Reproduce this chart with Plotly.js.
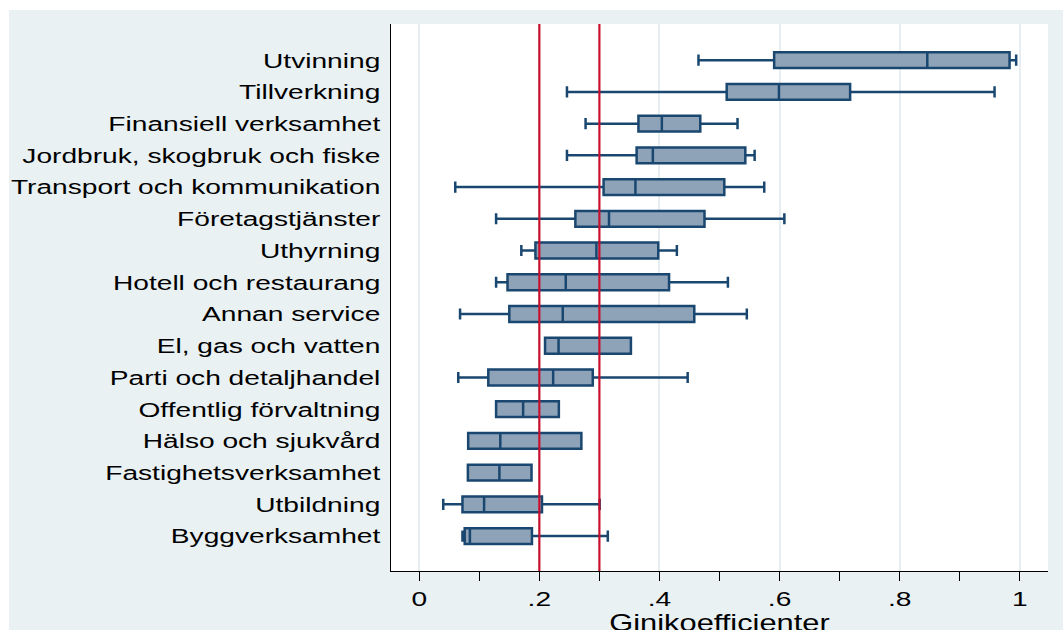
<!DOCTYPE html>
<html>
<head>
<meta charset="utf-8">
<script src="https://cdn.plot.ly/plotly-3.0.1.min.js"></script>
<style>
  html, body { margin: 0; padding: 0; background: #ffffff; width: 1063px; height: 630px; overflow: hidden; }
  #chart { position: absolute; left: 9px; top: 10px; width: 1054px; height: 620px; }
</style>
</head>
<body>
<div id="chart"></div>
<script>
// Categories, top to bottom
const categories = [
  "Utvinning",
  "Tillverkning",
  "Finansiell verksamhet",
  "Jordbruk, skogbruk och fiske",
  "Transport och kommunikation",
  "Företagstjänster",
  "Uthyrning",
  "Hotell och restaurang",
  "Annan service",
  "El, gas och vatten",
  "Parti och detaljhandel",
  "Offentlig förvaltning",
  "Hälso och sjukvård",
  "Fastighetsverksamhet",
  "Utbildning",
  "Byggverksamhet"
];
const lowerWhisker = [0.465, 0.246, 0.277, 0.246, 0.060, 0.128, 0.170, 0.128, 0.068, 0.2095, 0.065, 0.128, 0.0815, 0.081, 0.040, 0.072];
const q1Values     = [0.591, 0.512, 0.365, 0.362, 0.307, 0.260, 0.1935, 0.147, 0.150, 0.2095, 0.115, 0.128, 0.0815, 0.081, 0.072, 0.0757];
const medianValues = [0.846, 0.599, 0.404, 0.389, 0.360, 0.316, 0.295, 0.244, 0.239, 0.232, 0.223, 0.173, 0.135, 0.1335, 0.108, 0.0844];
const q3Values     = [0.983, 0.7175, 0.468, 0.543, 0.508, 0.475, 0.398, 0.416, 0.458, 0.3525, 0.289, 0.2325, 0.270, 0.187, 0.2044, 0.1877];
const upperWhisker = [0.994, 0.958, 0.530, 0.5585, 0.5745, 0.608, 0.429, 0.514, 0.5455, 0.3525, 0.447, 0.2325, 0.270, 0.187, 0.3005, 0.314];

const referenceLines = [0.2, 0.3];
const xTickVals = [0, 0.2, 0.4, 0.6, 0.8, 1];
const xTickText = ["0", ".2", ".4", ".6", ".8", "1"];
const xMinorTickVals = [0.1, 0.3, 0.5, 0.7, 0.9];
const xTitle = "Ginikoefficienter";

const FONT = "Liberation Sans, Arial, Helvetica, sans-serif";
const STRETCH = 1.34;

const trace = {
  type: "box",
  orientation: "h",
  y: categories,
  q1: q1Values,
  median: medianValues,
  q3: q3Values,
  lowerfence: lowerWhisker,
  upperfence: upperWhisker,
  boxpoints: false,
  width: 0.5,
  whiskerwidth: 0.7,
  fillcolor: "#8FA3B8",
  line: { color: "#1A476F", width: 2.5 },
  hoverinfo: "skip",
  showlegend: false
};

const shapes = referenceLines.map(v => ({
  type: "line", xref: "x", yref: "paper",
  x0: v, x1: v, y0: 0, y1: 1,
  line: { color: "#C8102E", width: 2.2 },
  layer: "above"
}));

const layout = {
  width: 1054,
  height: 620,
  margin: { l: 382, r: 15, t: 14, b: 59, pad: 0 },
  paper_bgcolor: "#E9F1F3",
  plot_bgcolor: "#FFFFFF",
  font: { family: FONT, size: 21, color: "#000000" },
  showlegend: false,
  shapes: shapes,
  xaxis: {
    range: [-0.047, 1.047],
    tickvals: xTickVals,
    ticktext: xTickText,
    ticks: "outside",
    ticklen: 9,
    tickwidth: 1.3,
    tickcolor: "#000000",
    tickfont: { family: FONT, size: 21, color: "#000000" },
    showgrid: true,
    gridcolor: "#E6EEF1",
    gridwidth: 2,
    zeroline: false,
    showline: true,
    linecolor: "#000000",
    linewidth: 1.3,
    automargin: false,
    minor: {
      tickvals: xMinorTickVals,
      ticks: "outside",
      ticklen: 9,
      tickwidth: 1.3,
      tickcolor: "#000000",
      showgrid: false
    },
    title: { text: xTitle, font: { family: FONT, size: 23, color: "#000000" } }
  },
  yaxis: {
    type: "category",
    categoryorder: "array",
    categoryarray: categories,
    range: [16.1, -1.14],
    ticks: "",
    showgrid: false,
    zeroline: false,
    showline: true,
    linecolor: "#000000",
    linewidth: 1.5,
    tickfont: { family: FONT, size: 21, color: "#000000" },
    ticklabelstandoff: 5,
    automargin: false
  }
};

function stretchText(selector, dy) {
  document.querySelectorAll(selector).forEach(t => {
    const x = parseFloat(t.getAttribute("x") || "0");
    if (dy) {
      const y = parseFloat(t.getAttribute("y") || "0");
      t.setAttribute("y", y + dy);
    }
    const prev = t.getAttribute("transform") || "";
    t.setAttribute("transform", prev + " translate(" + x + ",0) scale(" + STRETCH + ",1) translate(" + (-x) + ",0)");
  });
}

Plotly.newPlot("chart", [trace], layout, { staticPlot: true, displayModeBar: false }).then(() => {
  stretchText("#chart .ytick text", 0);
  stretchText("#chart .xtick text", 0);
  stretchText("#chart .g-xtitle text", 6);
});
</script>
</body>
</html>
